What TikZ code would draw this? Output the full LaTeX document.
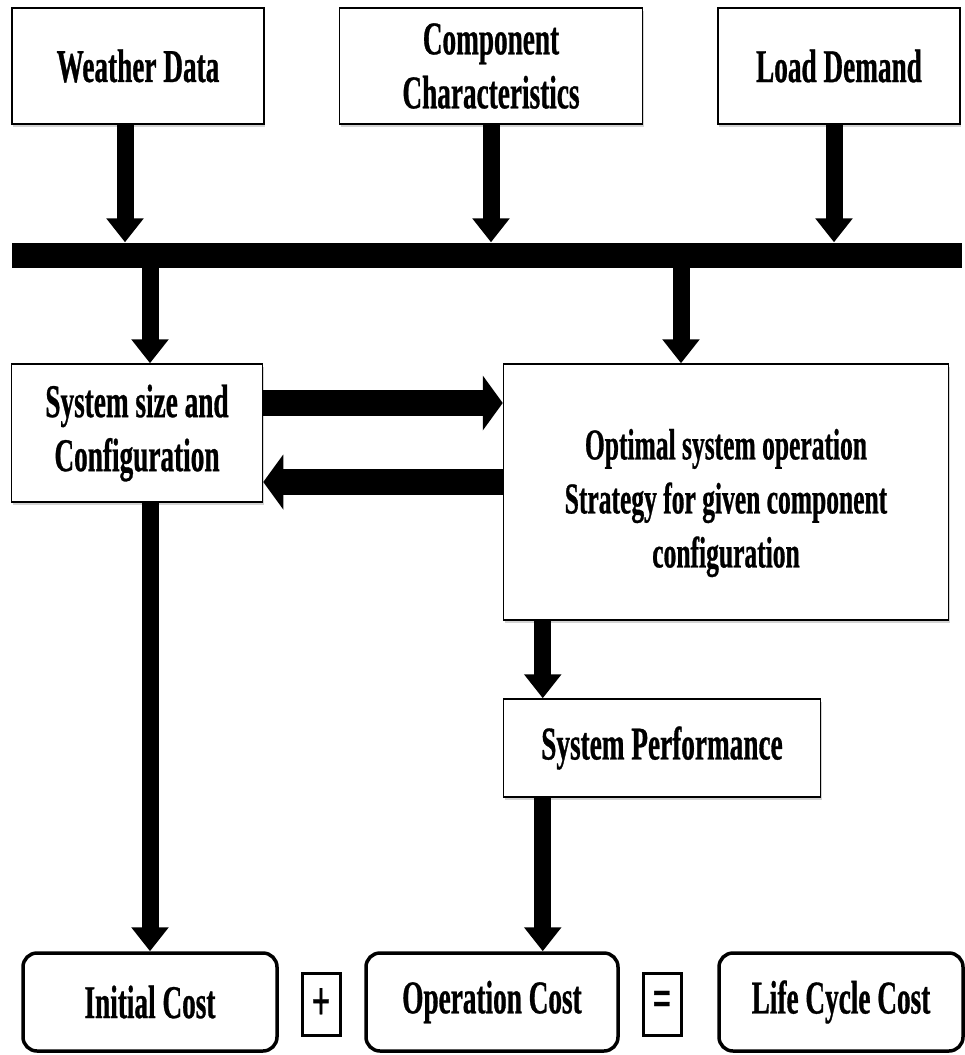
\documentclass[tikz,border=0pt]{standalone}
\usepackage{fontspec}
\setmainfont{Liberation Serif}[FakeStretch=0.58, FakeBold=0.6]
\usepackage{tikz}
\usetikzlibrary{arrows.meta, positioning, shadows, calc}
\tikzset{%
   % plain boxes with a faint drop shadow
   blk/.style={
      draw,
      line width=1.5pt,
      fill=white,
      align=center,
      inner sep=0pt,
      font=\fontsize{47}{54}\selectfont\bfseries,
      drop shadow={shadow xshift=1pt, shadow yshift=-3pt, opacity=.35}
   },
   txt/.style={
      align=center,
      inner sep=0pt,
      font=\fontsize{44}{54}\selectfont\bfseries
   },
   cost/.style={
      draw,
      line width=3.5pt,
      rounded corners=14pt,
      fill=white,
      align=center,
      inner sep=0pt,
      minimum height=98pt,
      font=\fontsize{47}{54}\selectfont\bfseries
   },
   opbox/.style={
      draw,
      line width=3pt,
      inner sep=0pt,
      minimum width=38pt,
      minimum height=62pt,
      font=\fontsize{56}{60}\selectfont\bfseries
   },
   bus/.style={
      fill=black,
      inner sep=0pt
   },
   vflow/.style={
      line width=17pt,
      -{Triangle[length=24pt, width=36pt]}
   },
   hflow/.style={
      line width=26pt,
      -{Triangle[length=20pt, width=54pt]}
   },
}

\begin{document}
\begin{tikzpicture}[x=1pt, y=-1pt]
    \useasboundingbox (0,0) rectangle (964,1055);
    \node[blk, minimum width=252pt, minimum height=116pt] (wd) at (138,66) {Weather Data};
    \node[blk, minimum width=303pt, minimum height=116pt] (cc) at (491,66) {Component\\Characteristics};
    \node[blk, minimum width=242pt, minimum height=116pt] (ld) at (839,66) {Load Demand};
    \node[bus, minimum width=950pt, minimum height=25pt] (bus) at (487,255) {};
    \node[blk, minimum width=251pt, minimum height=138pt] (sys) at (137,433) {System size and\\Configuration};
    \node[blk, minimum width=445pt, minimum height=256pt] (opt) at (726,492) {};
    \node[txt] (optxt) at (726,503) {Optimal system operation\\Strategy for given component\\configuration};
    \node[blk, minimum width=317pt, minimum height=98pt] (perf) at (662,748) {System Performance};
    \node[cost, minimum width=254pt] (ic) at (150,1002) {Initial Cost};
    \node[opbox] (plus) at (321,1004) {+};
    \node[cost, minimum width=252pt] (oc) at (492,1002) {Operation Cost};
    \node[opbox] (eq) at (662,1004) {=};
    \node[cost, minimum width=244pt] (lcc) at (841,1002) {Life Cycle Cost};
    \draw[vflow] ([xshift=-13pt]wd.south) -- ([xshift=-13pt]wd.south |- bus.north);
    \draw[vflow] (cc.south) -- (cc.south |- bus.north);
    \draw[vflow] ([xshift=-5pt]ld.south) -- ([xshift=-5pt]ld.south |- bus.north);
    \draw[vflow] ([xshift=13pt]sys.north |- bus.south) -- ([xshift=13pt]sys.north);
    \draw[vflow] ([xshift=-45pt]opt.north |- bus.south) -- ([xshift=-45pt]opt.north);
    \draw[hflow] ([yshift=30pt]sys.east) -- ([yshift=30pt]sys.east -| opt.west);
    \draw[hflow] ([yshift=-49pt]sys.east -| opt.west) -- ([yshift=-49pt]sys.east);
    \draw[vflow] (ic.north |- sys.south) -- (ic.north);
    \draw[vflow] ([xshift=40pt]perf.north west |- opt.south) -- ([xshift=40pt]perf.north west);
    \draw[vflow] ([xshift=40pt]perf.south west) -- ([xshift=40pt]perf.south west |- oc.north);
\end{tikzpicture}
\end{document}
